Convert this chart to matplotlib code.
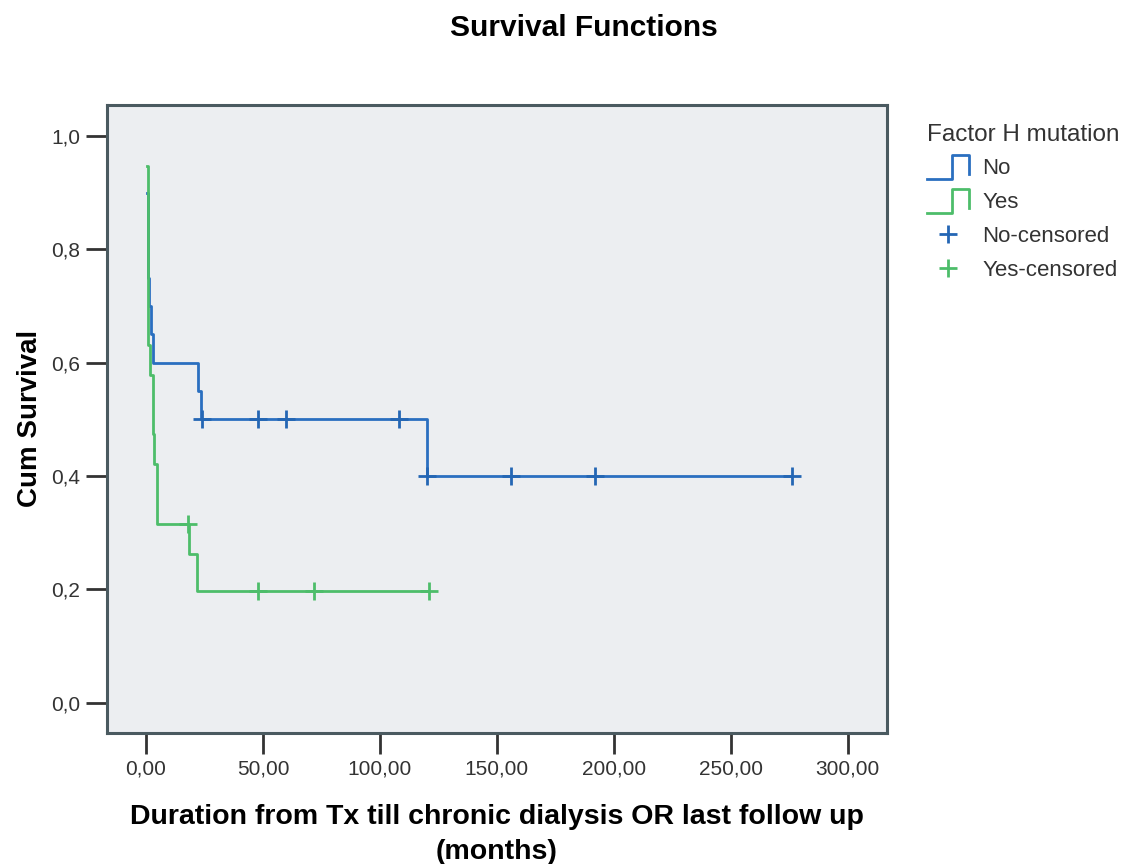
import numpy as np
import matplotlib
matplotlib.use('Agg')
import matplotlib.pyplot as plt
from matplotlib.lines import Line2D
from matplotlib.legend_handler import HandlerBase
from matplotlib.ticker import FuncFormatter

plt.rcParams['font.family'] = ['Liberation Sans', 'DejaVu Sans']

# Kaplan-Meier steps (time in months, survival after the drop)
no_times = [0.5, 0.7, 1.4, 2.1, 3.1, 22.2, 23.5, 120.0, 276.0]
no_surv = [0.90, 0.75, 0.70, 0.65, 0.60, 0.55, 0.50, 0.40, 0.40]
no_cens = [24.0, 48.0, 60.0, 108.0, 120.0, 156.0, 192.0, 276.0]

yes_times = [0.4, 0.7, 1.9, 2.8, 3.5, 4.5, 18.3, 22.0, 121.0]
yes_surv = [0.947, 0.632, 0.579, 0.474, 0.421, 0.316, 0.263, 0.197, 0.197]
yes_cens = [18.0, 48.0, 72.0, 121.0]

x_ticks = [0, 50, 100, 150, 200, 250, 300]
y_ticks = [0.0, 0.2, 0.4, 0.6, 0.8, 1.0]

blue = '#2a6fc0'
green = '#4dbd6a'
spine_col = '#4a5a60'


def surv_at(times, surv, t):
    i = np.searchsorted(times, t, side='right') - 1
    return np.array(surv)[i]


class StepHandler(HandlerBase):
    def create_artists(self, legend, orig_handle, xdescent, ydescent,
                       width, height, fontsize, trans):
        x0, y0 = -xdescent, -ydescent - 0.3 * height
        xs = [x0, x0 + 0.6 * width, x0 + 0.6 * width, x0 + width, x0 + width]
        ys = [y0, y0, y0 + 1.55 * height, y0 + 1.55 * height, y0 + 0.3 * height]
        ln = Line2D(xs, ys, color=orig_handle.get_color(), lw=2.0)
        ln.set_transform(trans)
        return [ln]


fig = plt.figure(figsize=(11.33, 8.64), dpi=100)
ax = fig.add_axes([0.0942, 0.152, 0.6884, 0.7265])
ax.set_facecolor('#eceef1')

l_no, = ax.step(no_times, no_surv, where='post', color=blue, lw=2.0)
l_yes, = ax.step(yes_times, yes_surv, where='post', color=green, lw=2.0)
c_no, = ax.plot(no_cens, surv_at(no_times, no_surv, no_cens), '+', color='#2466b4',
                ms=13, mew=2.0, ls='none')
c_yes, = ax.plot(yes_cens, surv_at(yes_times, yes_surv, yes_cens), '+', color=green,
                 ms=13, mew=2.0, ls='none')

ax.set_xlim(-16.8, 316.7)
ax.set_ylim(-0.053, 1.055)
ax.set_xticks(x_ticks)
ax.set_yticks(y_ticks)
ax.xaxis.set_major_formatter(FuncFormatter(lambda v, p: f'{v:.2f}'.replace('.', ',')))
ax.yaxis.set_major_formatter(FuncFormatter(lambda v, p: f'{v:.1f}'.replace('.', ',')))
ax.tick_params(length=15, width=2, color='#333333', labelsize=15,
               labelcolor='#333333', pad=4)
for s in ax.spines.values():
    s.set_color(spine_col)
    s.set_linewidth(2.2)

ax.set_xlabel('Duration from Tx till chronic dialysis OR last follow up\n(months)',
              fontsize=20.5, fontweight='bold', labelpad=19, linespacing=1.45)
ax.set_ylabel('Cum Survival', fontsize=20, fontweight='bold', labelpad=6)
fig.text(0.515, 0.968, 'Survival Functions', fontsize=21.5, fontweight='bold',
         ha='center', va='center')

leg = fig.legend([l_no, l_yes, c_no, c_yes],
                 ['No', 'Yes', 'No-censored', 'Yes-censored'],
                 handler_map={l_no: StepHandler(), l_yes: StepHandler()},
                 loc='upper left', bbox_to_anchor=(0.818, 0.857), frameon=False,
                 title='Factor H mutation', title_fontsize=17.5, fontsize=16,
                 handlelength=1.9, handletextpad=0.6, labelspacing=0.58,
                 alignment='left', borderpad=0, borderaxespad=0)
for t in leg.get_texts():
    t.set_color('#333333')
leg.get_title().set_color('#333333')

fig.savefig('out.png', dpi=100)
